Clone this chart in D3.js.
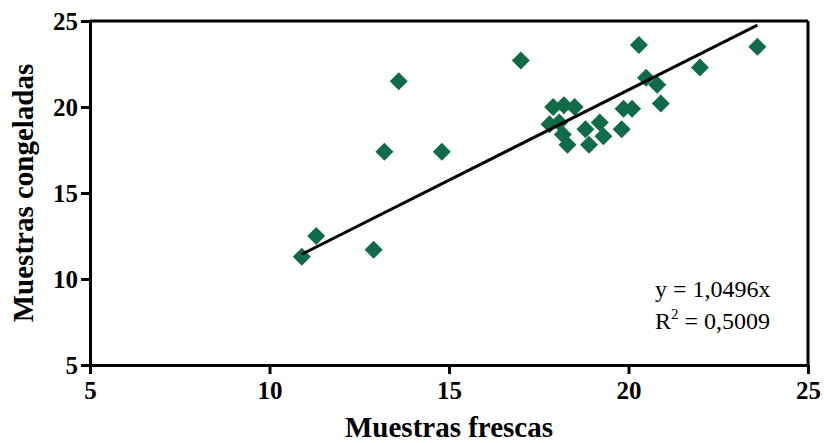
<!DOCTYPE html>
<html>
<head>
<meta charset="utf-8">
<script src="https://cdn.jsdelivr.net/npm/d3@7"></script>
<style>
  html, body { margin: 0; padding: 0; background: #fff; }
  svg { display: block; }
</style>
</head>
<body>
<div id="chart"></div>
<script>
// Muestras frescas (x) vs congeladas (y)
var frescas    = [10.9, 11.3, 12.9, 13.2, 13.6, 14.8, 17.0, 17.8, 17.9, 18.07, 18.17, 18.2, 18.3, 18.5, 18.8, 18.9, 19.2, 19.3, 19.81, 19.86, 20.1, 20.29, 20.49, 20.8, 20.9, 21.99, 23.59];
var congeladas = [11.3, 12.5, 11.7, 17.4, 21.5, 17.4, 22.7, 19.0, 20.0, 19.1, 18.4, 20.1, 17.8, 20.0, 18.7, 17.8, 19.1, 18.3, 18.7, 19.9, 19.9, 23.6, 21.7, 21.3, 20.2, 22.3, 23.5];
var xTicks = [5, 10, 15, 20, 25];
var yTicks = [5, 10, 15, 20, 25];
var slope = 1.0496;
var eqLines = ['y = 1,0496x', 'R2 = 0,5009'];

var W = 824, H = 443;
var m = { left: 90, right: 16, top: 21, bottom: 78 };
var FONT = '"Liberation Serif", "Times New Roman", serif';
var svg = d3.select('#chart').append('svg').attr('width', W).attr('height', H);

var x = d3.scaleLinear().domain([5, 25]).range([m.left, W - m.right]);
var y = d3.scaleLinear().domain([5, 25]).range([H - m.bottom, m.top]);

// frame top/right
svg.append('line').attr('x1', x(5)).attr('x2', x(25)).attr('y1', y(25)).attr('y2', y(25))
  .attr('stroke', '#000').attr('stroke-width', 3);
svg.append('line').attr('x1', x(25)).attr('x2', x(25)).attr('y1', y(25)).attr('y2', y(5))
  .attr('stroke', '#000').attr('stroke-width', 3);

var gx = svg.append('g').attr('transform', 'translate(0,' + y(5) + ')')
  .call(d3.axisBottom(x).tickValues(xTicks).tickSize(9).tickPadding(7).tickSizeOuter(0));
var gy = svg.append('g').attr('transform', 'translate(' + x(5) + ',0)')
  .call(d3.axisLeft(y).tickValues(yTicks).tickSize(9).tickPadding(3).tickSizeOuter(0));
[gx, gy].forEach(function (g) {
  g.attr('font-family', FONT).attr('font-size', 25).attr('font-weight', 700);
  g.select('.domain').attr('stroke-width', 3).attr('stroke', '#000');
  g.selectAll('.tick line').attr('stroke-width', 3).attr('stroke', '#000');
  g.selectAll('.tick text').attr('fill', '#000');
});
gy.selectAll('.tick text').attr('dy', '0.34em');

// diamonds
var pts = frescas.map(function (v, i) { return [v, congeladas[i]]; });
var R = 9;
svg.append('g').selectAll('path').data(pts).enter().append('path')
  .attr('d', function (d) {
    var cx = x(d[0]), cy = y(d[1]);
    return 'M' + cx + ',' + (cy - R) + 'L' + (cx + R) + ',' + cy + 'L' + cx + ',' + (cy + R) + 'L' + (cx - R) + ',' + cy + 'Z';
  })
  .attr('fill', '#106c48');

// regression line through origin, over data range (drawn on top of markers)
var x0 = d3.min(frescas), x1 = d3.max(frescas);
svg.append('line').attr('x1', x(x0)).attr('y1', y(slope * x0)).attr('x2', x(x1)).attr('y2', y(slope * x1))
  .attr('stroke', '#000').attr('stroke-width', 3);

// axis titles
svg.append('text').attr('x', (x(5) + x(25)) / 2).attr('y', 437).attr('text-anchor', 'middle')
  .attr('font-family', FONT).attr('font-weight', 700).attr('font-size', 29)
  .text('Muestras frescas');
svg.append('text').attr('transform', 'translate(33,' + ((y(5) + y(25)) / 2) + ') rotate(-90)').attr('text-anchor', 'middle')
  .attr('font-family', FONT).attr('font-weight', 700).attr('font-size', 29)
  .text('Muestras congeladas');

// equation
var eq = svg.append('g').attr('font-family', FONT).attr('font-size', 24);
eq.append('text').attr('x', 655).attr('y', 297).text(eqLines[0]);
var t2 = eq.append('text').attr('x', 655).attr('y', 329);
t2.append('tspan').text('R');
t2.append('tspan').attr('dy', -10).attr('font-size', 15).text('2');
t2.append('tspan').attr('dy', 10).text(' = 0,5009');
</script>
</body>
</html>
